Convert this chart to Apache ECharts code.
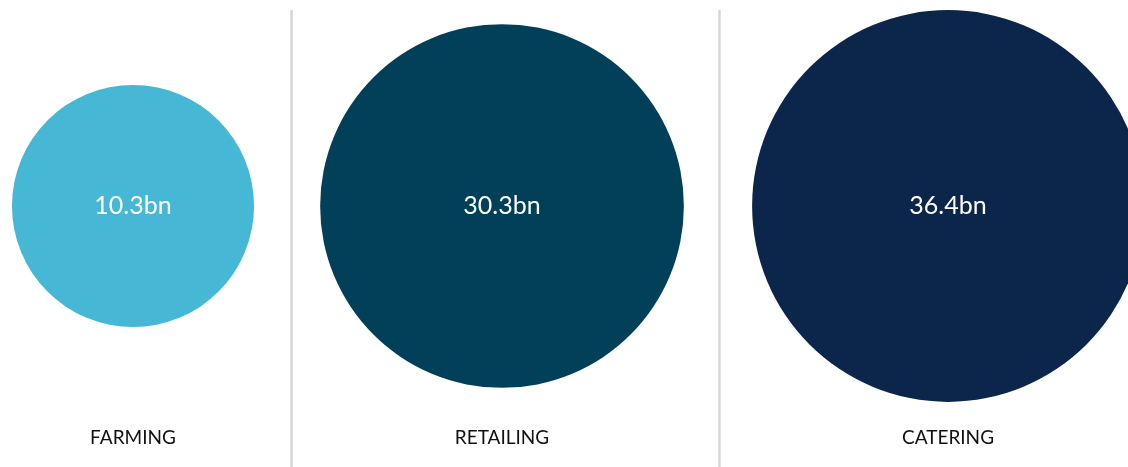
<!DOCTYPE html>
<html><head><meta charset="utf-8">
<script src="https://cdn.jsdelivr.net/npm/echarts@6/dist/echarts.min.js"></script>
<style>html,body{margin:0;padding:0;background:#fff}#c{width:1128px;height:467px}</style>
</head><body><div id="c"></div>
<script>
const categories = ['FARMING', 'RETAILING', 'CATERING'];
const values = [10.3, 30.3, 36.4];
const valueLabels = ['10.3bn', '30.3bn', '36.4bn'];
const colors = ['#46b8d6', '#02405a', '#0c254a'];

const panels = [
  {left: 0, width: 266},
  {left: 291, width: 422},
  {left: 719, width: 458}
];
const FONT = 'Lato, "Noto Sans", sans-serif';

const chart = echarts.init(document.getElementById('c'));
const grids = [], xAxes = [], yAxes = [], series = [];
categories.forEach((cat, i) => {
  grids.push({left: panels[i].left, width: panels[i].width, top: 0, height: 412,
    containLabel: false, outerBoundsMode: 'none'});
  xAxes.push({type: 'category', gridIndex: i, data: [cat],
    axisLine: {show: false}, axisTick: {show: false}, splitLine: {show: false},
    axisLabel: {margin: 16, color: '#111', fontSize: 19, fontFamily: FONT}});
  yAxes.push({type: 'category', gridIndex: i, data: [''], show: false});
  series.push({type: 'scatter', xAxisIndex: i, yAxisIndex: i, clip: false,
    data: [{value: [cat, '', values[i]], label: {formatter: valueLabels[i]}}],
    encode: {x: 0, y: 1},
    symbolSize: d => 72 + 53 * Math.sqrt(d[2]),
    itemStyle: {color: colors[i], opacity: 1},
    label: {show: true, position: 'inside', color: '#fff', fontSize: 25, fontFamily: FONT},
    emphasis: {disabled: true}, silent: true});
});

chart.setOption({
  animation: false,
  grid: grids, xAxis: xAxes, yAxis: yAxes, series: series,
  graphic: [
    {type: 'line', shape: {x1: 291.5, y1: 10, x2: 291.5, y2: 467}, style: {stroke: '#d6d6d6', lineWidth: 2.5}},
    {type: 'line', shape: {x1: 719.5, y1: 10, x2: 719.5, y2: 467}, style: {stroke: '#d6d6d6', lineWidth: 2.5}}
  ]
});
</script></body></html>
